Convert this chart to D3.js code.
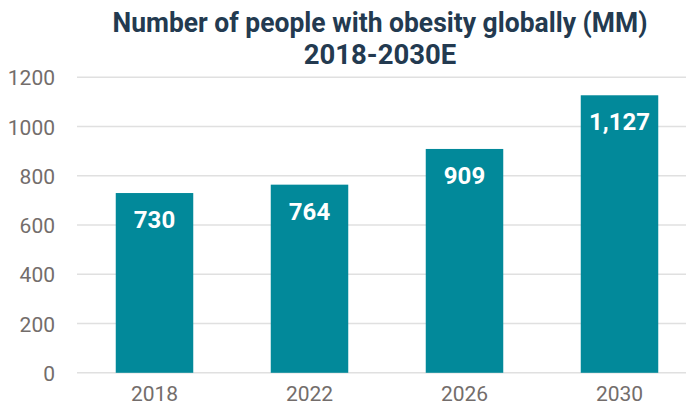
<!DOCTYPE html>
<html>
<head>
<meta charset="utf-8">
<script src="https://cdn.jsdelivr.net/npm/d3@7"></script>
<style>
  html, body { margin: 0; padding: 0; background: #fff; }
  svg { display: block; }
  text { font-family: Roboto, "Noto Sans", sans-serif; }
</style>
</head>
<body>
<script>
const categories = ["2018", "2022", "2026", "2030"];
const values = [730, 764, 909, 1127];
const valueLabels = ["730", "764", "909", "1,127"];
const yTicks = [0, 200, 400, 600, 800, 1000, 1200];
const titleLines = ["Number of people with obesity globally (MM)", "2018-2030E"];

const W = 686, H = 407;
const svg = d3.select("body").append("svg").attr("width", W).attr("height", H);

const x = d3.scaleBand().domain(categories).range([77, 697]).paddingInner(0.5).paddingOuter(0.25);
const y = d3.scaleLinear().domain([0, 1200]).range([372.8, 77.3]);

// gridlines
svg.append("g").selectAll("line").data(yTicks).join("line")
  .attr("x1", 77).attr("x2", W)
  .attr("y1", d => y(d)).attr("y2", d => y(d))
  .attr("stroke", "#e0e0e0").attr("stroke-width", 1.6);

// y axis labels
const yAxis = d3.axisLeft(y).tickValues(yTicks).tickSize(0).tickPadding(0).tickFormat(d3.format("d"));
const gy = svg.append("g").attr("transform", "translate(55,0)").call(yAxis);
gy.select(".domain").remove();
gy.selectAll("text").attr("font-size", 21).attr("fill", "#736d6b")
  .attr("font-family", "Roboto, sans-serif").attr("dy", "0.36em");

// x axis labels
const xAxis = d3.axisBottom(x).tickSize(0).tickPadding(0);
const gx = svg.append("g").attr("transform", "translate(0,401)").call(xAxis);
gx.select(".domain").remove();
gx.selectAll("text").attr("font-size", 21).attr("fill", "#736d6b")
  .attr("font-family", "Roboto, sans-serif").attr("dy", 0).attr("y", 0);

// bars
svg.append("g").selectAll("rect").data(values).join("rect")
  .attr("x", (d, i) => x(categories[i]))
  .attr("width", x.bandwidth())
  .attr("y", d => y(d))
  .attr("height", d => y(0) - y(d))
  .attr("fill", "#02899a");

// value labels
svg.append("g").selectAll("text").data(values).join("text")
  .attr("x", (d, i) => x(categories[i]) + x.bandwidth() / 2)
  .attr("y", d => y(d) + 35)
  .attr("text-anchor", "middle")
  .attr("font-size", 24).attr("font-weight", "bold").attr("fill", "#ffffff")
  .text((d, i) => valueLabels[i]);

// title
const tl = svg.append("g").selectAll("text").data(titleLines).join("text")
  .attr("x", 380)
  .attr("y", (d, i) => 32.3 + i * 32)
  .attr("text-anchor", "middle")
  .attr("font-size", 27.5).attr("font-weight", "bold").attr("fill", "#233a50")
  .text(d => d);
tl.filter((d, i) => i === 0).attr("textLength", 535).attr("lengthAdjust", "spacingAndGlyphs");
</script>
</body>
</html>
